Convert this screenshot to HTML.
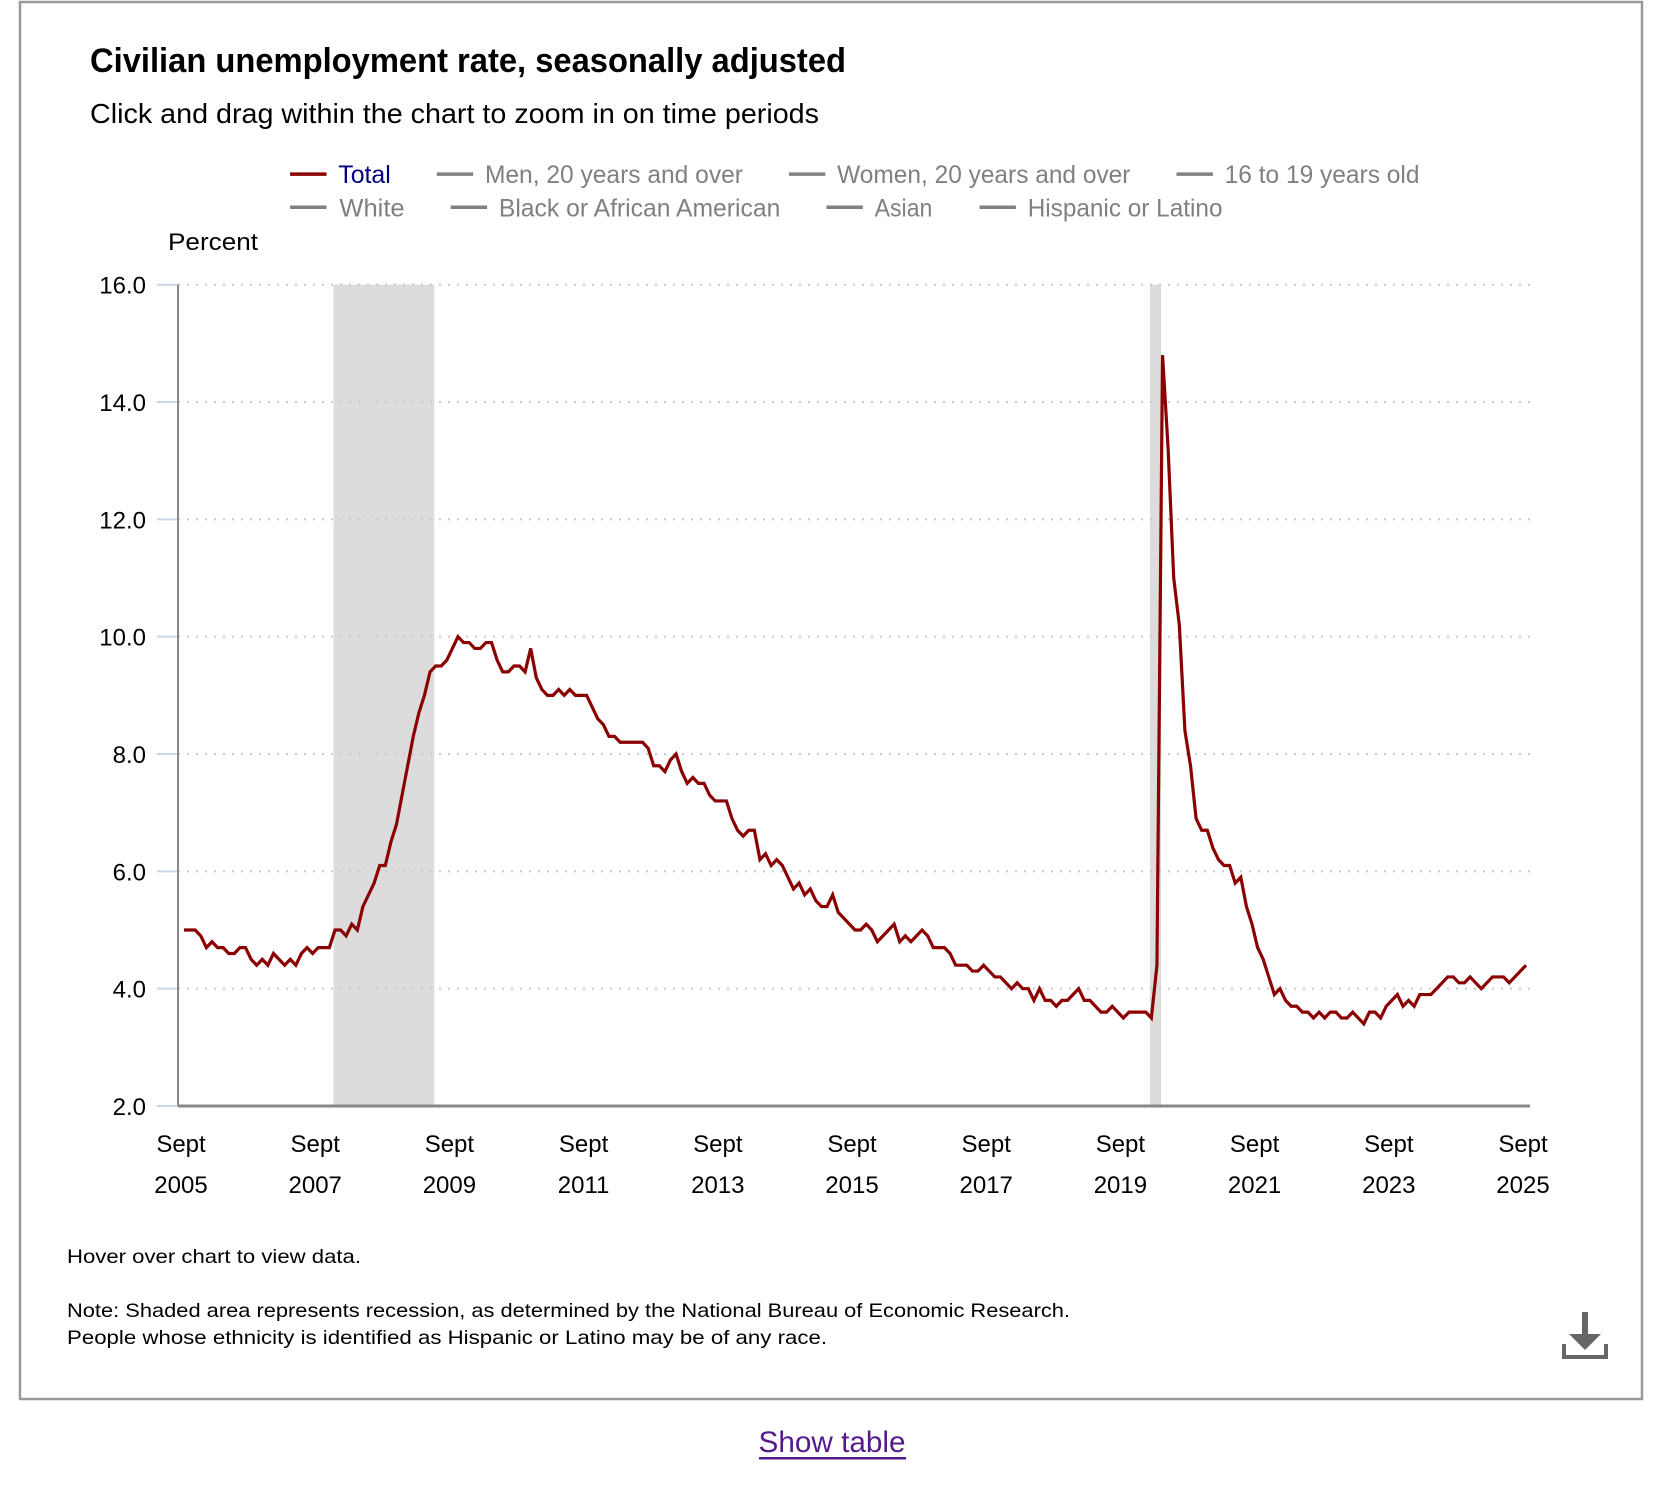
<!DOCTYPE html>
<html><head><meta charset="utf-8"><style>
html,body{margin:0;padding:0;background:#fff;}
svg{display:block;font-family:"Liberation Sans",sans-serif;}
</style></head><body>
<svg id="chart" width="1670" height="1490" viewBox="0 0 1670 1490" xmlns="http://www.w3.org/2000/svg">
<rect x="20" y="2" width="1622" height="1397" fill="#fff" stroke="#999" stroke-width="2.5"/>
<text x="90" y="72" font-size="34" font-weight="bold" fill="#000" textLength="756" lengthAdjust="spacingAndGlyphs">Civilian unemployment rate, seasonally adjusted</text>
<text x="90" y="123" font-size="28" fill="#000" textLength="729" lengthAdjust="spacingAndGlyphs">Click and drag within the chart to zoom in on time periods</text>
<g id="legend"></g>
<text x="168" y="250" font-size="24" fill="#000" textLength="90" lengthAdjust="spacingAndGlyphs">Percent</text>
<g id="plot"></g>
<text x="67" y="1263" font-size="19.5" fill="#000" textLength="294" lengthAdjust="spacingAndGlyphs">Hover over chart to view data.</text>
<text x="67" y="1317" font-size="19.5" fill="#000" textLength="1003" lengthAdjust="spacingAndGlyphs">Note: Shaded area represents recession, as determined by the National Bureau of Economic Research.</text>
<text x="67" y="1344" font-size="19.5" fill="#000" textLength="760" lengthAdjust="spacingAndGlyphs">People whose ethnicity is identified as Hispanic or Latino may be of any race.</text>
<g fill="#666">
<rect x="1582" y="1312" width="6" height="26"/>
<polygon points="1569,1334 1601,1334 1585,1350"/>
<rect x="1562" y="1344" width="4" height="15"/>
<rect x="1604" y="1344" width="4" height="15"/>
<rect x="1562" y="1355" width="46" height="4"/>
</g>
<text x="832" y="1452" font-size="30" fill="#551a8b" text-anchor="middle" textLength="147" lengthAdjust="spacingAndGlyphs">Show table</text>
<rect x="759" y="1457" width="147" height="2.5" fill="#551a8b"/>
</svg>
<script>
const legendLabels = ["Total","Men, 20 years and over","Women, 20 years and over","16 to 19 years old","White","Black or African American","Asian","Hispanic or Latino"];
const yTicks = [2,4,6,8,10,12,14,16];
const xTickLabels = ["2005","2007","2009","2011","2013","2015","2017","2019","2021","2023","2025"];
const recessions = [[27,45],[173,175]];
const rates = [
5.0,5.0,5.0,4.9,
4.7,4.8,4.7,4.7,4.6,4.6,4.7,4.7,4.5,4.4,4.5,4.4,
4.6,4.5,4.4,4.5,4.4,4.6,4.7,4.6,4.7,4.7,4.7,5.0,
5.0,4.9,5.1,5.0,5.4,5.6,5.8,6.1,6.1,6.5,6.8,7.3,
7.8,8.3,8.7,9.0,9.4,9.5,9.5,9.6,9.8,10.0,9.9,9.9,
9.8,9.8,9.9,9.9,9.6,9.4,9.4,9.5,9.5,9.4,9.8,9.3,
9.1,9.0,9.0,9.1,9.0,9.1,9.0,9.0,9.0,8.8,8.6,8.5,
8.3,8.3,8.2,8.2,8.2,8.2,8.2,8.1,7.8,7.8,7.7,7.9,
8.0,7.7,7.5,7.6,7.5,7.5,7.3,7.2,7.2,7.2,6.9,6.7,
6.6,6.7,6.7,6.2,6.3,6.1,6.2,6.1,5.9,5.7,5.8,5.6,
5.7,5.5,5.4,5.4,5.6,5.3,5.2,5.1,5.0,5.0,5.1,5.0,
4.8,4.9,5.0,5.1,4.8,4.9,4.8,4.9,5.0,4.9,4.7,4.7,
4.7,4.6,4.4,4.4,4.4,4.3,4.3,4.4,4.3,4.2,4.2,4.1,
4.0,4.1,4.0,4.0,3.8,4.0,3.8,3.8,3.7,3.8,3.8,3.9,
4.0,3.8,3.8,3.7,3.6,3.6,3.7,3.6,3.5,3.6,3.6,3.6,
3.6,3.5,4.4,14.8,13.2,11.0,10.2,8.4,7.8,6.9,6.7,6.7,
6.4,6.2,6.1,6.1,5.8,5.9,5.4,5.1,4.7,4.5,4.2,3.9,
4.0,3.8,3.7,3.7,3.6,3.6,3.5,3.6,3.5,3.6,3.6,3.5,
3.5,3.6,3.5,3.4,3.6,3.6,3.5,3.7,3.8,3.9,3.7,3.8,
3.7,3.9,3.9,3.9,4.0,4.1,4.2,4.2,4.1,4.1,4.2,4.1,
4.0,4.1,4.2,4.2,4.2,4.1,4.2,4.3,4.4];

const NS="http://www.w3.org/2000/svg";
const X0=184, X1=1526, YT=284.7, YB=1106, AXL=178, AXR=1530;
const xs=i=>X0+(X1-X0)*i/240;
const ys=v=>YB-(v-2)/14*(YB-YT);
function mk(tag,attrs,parent){const e=document.createElementNS(NS,tag);for(const k in attrs)e.setAttribute(k,attrs[k]);parent.appendChild(e);return e;}

const plot=document.getElementById('plot');
recessions.forEach((r,i)=>{
  const e=mk('rect',{x:xs(r[0]-0.25),y:YT,width:xs(r[1])-xs(r[0]),height:YB-YT,fill:'#dcdcdc'},plot);
  
  
});
yTicks.forEach(v=>{
  const y=ys(v);
  if(v>2){
    const g=mk('line',{x1:AXL,x2:AXR,y1:y,y2:y,stroke:'#c8c8c8','stroke-width':2,'stroke-dasharray':'2,7'},plot);
    
    
  }
  const t=mk('line',{x1:157,x2:AXL,y1:y,y2:y,stroke:'#ccd6eb','stroke-width':2},plot);
  
  
  const l=mk('text',{x:146,y:y+9,'font-size':24,'text-anchor':'end',fill:'#000'},plot);
  l.textContent=v.toFixed(1);
  
  
});
const ya=mk('line',{x1:AXL,x2:AXL,y1:YT,y2:YB,stroke:'#888','stroke-width':2},plot);


const xa=mk('line',{x1:AXL,x2:AXR,y1:YB,y2:YB,stroke:'#888','stroke-width':3},plot);


xTickLabels.forEach((yr,i)=>{
  const x=xs(i*24)-3;
  const a=mk('text',{x:x,y:1152,'font-size':24,'text-anchor':'middle',fill:'#000'},plot);
  a.textContent='Sept';
  
  
  const b=mk('text',{x:x,y:1193,'font-size':24,'text-anchor':'middle',fill:'#000'},plot);
  b.textContent=yr;
  
  
});
const d=rates.map((v,i)=>(i?'L':'M')+xs(i).toFixed(2)+','+ys(v).toFixed(2)).join('');
const line=mk('path',{d:d,fill:'none',stroke:'#8b0000','stroke-width':3.2,'stroke-linejoin':'miter'},plot);



const legend=document.getElementById('legend');
const legPos=[[271,316,365,164],[408,453,694,164],[737,782,1056,164],[1099,1144,1326,164],[271,317,378,195],[421,466,729,195],[772,817,871,195],[915,960,1142,195]];
const S=1670/1560;
legendLabels.forEach((lab,i)=>{
  const p=legPos[i];const y=p[3]*S-1.5;
  const col=i===0?'#8b0000':'#808080';
  const l=mk('line',{x1:p[0]*S,x2:(p[0]+34)*S,y1:y,y2:y,stroke:col,'stroke-width':3.5},legend);
  
  
  const t=mk('text',{x:p[1]*S,y:y+9,'font-size':25,fill:i===0?'#000080':'#808080',textLength:((p[2]-p[1])*S).toFixed(1),lengthAdjust:'spacingAndGlyphs'},legend);
  t.textContent=lab;
  
  
});
</script>
</body></html>
